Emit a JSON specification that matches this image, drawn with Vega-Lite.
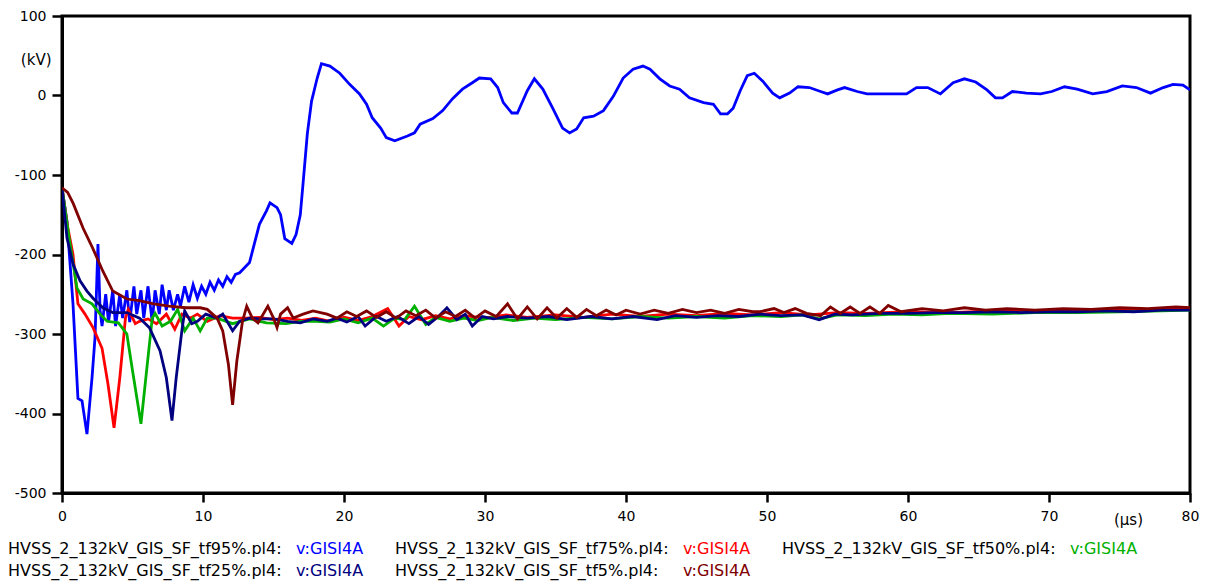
{
"$schema":"https://vega.github.io/schema/vega-lite/v6.json",
"padding":{"left":8,"top":7,"right":0,"bottom":0},
"bounds":"flush",
"spacing":45,
"config":{"view":{"stroke":null},"font":"DejaVu Sans","text":{"font":"DejaVu Sans"}},
"datasets":{
"legend":[
{"row":1,"col":1,"name":"HVSS_2_132kV_GIS_SF_tf95%.pl4:","s":"tf95%","tag":"v:GISI4A"},
{"row":1,"col":2,"name":"HVSS_2_132kV_GIS_SF_tf75%.pl4:","s":"tf75%","tag":"v:GISI4A"},
{"row":1,"col":3,"name":"HVSS_2_132kV_GIS_SF_tf50%.pl4:","s":"tf50%","tag":"v:GISI4A"},
{"row":2,"col":1,"name":"HVSS_2_132kV_GIS_SF_tf25%.pl4:","s":"tf25%","tag":"v:GISI4A"},
{"row":2,"col":2,"name":"HVSS_2_132kV_GIS_SF_tf5%.pl4:","s":"tf5%","tag":"v:GISI4A"}
],
"curves":[
{"s":"tf95%","t":0,"v":-116},{"s":"tf95%","t":0.35,"v":-158},{"s":"tf95%","t":0.78,"v":-262},{"s":"tf95%","t":1.13,"v":-381},{"s":"tf95%","t":1.42,"v":-384},{"s":"tf95%","t":1.77,"v":-426},{"s":"tf95%","t":2.13,"v":-355},{"s":"tf95%","t":2.34,"v":-305},{"s":"tf95%","t":2.55,"v":-187},{"s":"tf95%","t":2.7,"v":-270},{"s":"tf95%","t":2.84,"v":-290},{"s":"tf95%","t":3.1,"v":-250},{"s":"tf95%","t":3.3,"v":-285},{"s":"tf95%","t":3.6,"v":-245},{"s":"tf95%","t":3.8,"v":-290},{"s":"tf95%","t":4.1,"v":-250},{"s":"tf95%","t":4.3,"v":-280},{"s":"tf95%","t":4.6,"v":-245},{"s":"tf95%","t":4.8,"v":-285},{"s":"tf95%","t":5.1,"v":-240},{"s":"tf95%","t":5.3,"v":-275},{"s":"tf95%","t":5.6,"v":-245},{"s":"tf95%","t":5.8,"v":-280},{"s":"tf95%","t":6.1,"v":-240},{"s":"tf95%","t":6.4,"v":-285},{"s":"tf95%","t":6.6,"v":-245},{"s":"tf95%","t":6.9,"v":-275},{"s":"tf95%","t":7.1,"v":-238},{"s":"tf95%","t":7.4,"v":-270},{"s":"tf95%","t":7.6,"v":-245},{"s":"tf95%","t":7.9,"v":-270},{"s":"tf95%","t":8.2,"v":-250},{"s":"tf95%","t":8.4,"v":-265},{"s":"tf95%","t":8.7,"v":-240},{"s":"tf95%","t":9.0,"v":-260},{"s":"tf95%","t":9.3,"v":-238},{"s":"tf95%","t":9.6,"v":-255},{"s":"tf95%","t":9.9,"v":-240},{"s":"tf95%","t":10.2,"v":-250},{"s":"tf95%","t":10.5,"v":-235},{"s":"tf95%","t":10.8,"v":-245},{"s":"tf95%","t":11.1,"v":-232},{"s":"tf95%","t":11.4,"v":-240},{"s":"tf95%","t":11.7,"v":-228},{"s":"tf95%","t":12.0,"v":-235},{"s":"tf95%","t":12.3,"v":-225},{"s":"tf95%","t":12.6,"v":-223},{"s":"tf95%","t":13.3,"v":-210},{"s":"tf95%","t":14.0,"v":-162},{"s":"tf95%","t":14.5,"v":-145},{"s":"tf95%","t":14.75,"v":-135},{"s":"tf95%","t":15.25,"v":-141},{"s":"tf95%","t":15.5,"v":-150},{"s":"tf95%","t":15.8,"v":-180},{"s":"tf95%","t":16.3,"v":-186},{"s":"tf95%","t":16.6,"v":-175},{"s":"tf95%","t":16.9,"v":-150},{"s":"tf95%","t":17.1,"v":-110},{"s":"tf95%","t":17.4,"v":-48},{"s":"tf95%","t":17.7,"v":-7},{"s":"tf95%","t":18.1,"v":22},{"s":"tf95%","t":18.4,"v":40},{"s":"tf95%","t":19.0,"v":37},{"s":"tf95%","t":19.7,"v":28},{"s":"tf95%","t":20.4,"v":14},{"s":"tf95%","t":21.1,"v":2},{"s":"tf95%","t":21.6,"v":-11},{"s":"tf95%","t":22.0,"v":-28},{"s":"tf95%","t":22.6,"v":-41},{"s":"tf95%","t":23.0,"v":-53},{"s":"tf95%","t":23.6,"v":-57},{"s":"tf95%","t":24.5,"v":-51},{"s":"tf95%","t":25.0,"v":-47},{"s":"tf95%","t":25.4,"v":-36},{"s":"tf95%","t":26.3,"v":-29},{"s":"tf95%","t":27.0,"v":-19},{"s":"tf95%","t":27.7,"v":-4},{"s":"tf95%","t":28.4,"v":8},{"s":"tf95%","t":29.1,"v":16},{"s":"tf95%","t":29.6,"v":22},{"s":"tf95%","t":30.4,"v":21},{"s":"tf95%","t":30.9,"v":10},{"s":"tf95%","t":31.3,"v":-9},{"s":"tf95%","t":31.9,"v":-22},{"s":"tf95%","t":32.3,"v":-22},{"s":"tf95%","t":33.0,"v":6},{"s":"tf95%","t":33.5,"v":21},{"s":"tf95%","t":34.1,"v":8},{"s":"tf95%","t":34.8,"v":-16},{"s":"tf95%","t":35.5,"v":-41},{"s":"tf95%","t":36.0,"v":-47},{"s":"tf95%","t":36.5,"v":-42},{"s":"tf95%","t":37.0,"v":-28},{"s":"tf95%","t":37.7,"v":-26},{"s":"tf95%","t":38.4,"v":-19},{"s":"tf95%","t":39.1,"v":-1},{"s":"tf95%","t":39.8,"v":22},{"s":"tf95%","t":40.5,"v":33},{"s":"tf95%","t":41.2,"v":37},{"s":"tf95%","t":41.7,"v":33},{"s":"tf95%","t":42.4,"v":21},{"s":"tf95%","t":43.1,"v":12},{"s":"tf95%","t":43.8,"v":8},{"s":"tf95%","t":44.5,"v":-3},{"s":"tf95%","t":45.5,"v":-9},{"s":"tf95%","t":46.2,"v":-11},{"s":"tf95%","t":46.7,"v":-23},{"s":"tf95%","t":47.2,"v":-23},{"s":"tf95%","t":47.6,"v":-16},{"s":"tf95%","t":48.1,"v":6},{"s":"tf95%","t":48.6,"v":25},{"s":"tf95%","t":49.1,"v":28},{"s":"tf95%","t":49.7,"v":18},{"s":"tf95%","t":50.4,"v":3},{"s":"tf95%","t":50.9,"v":-3},{"s":"tf95%","t":51.6,"v":3},{"s":"tf95%","t":52.2,"v":11},{"s":"tf95%","t":53.0,"v":10},{"s":"tf95%","t":53.8,"v":5},{"s":"tf95%","t":54.3,"v":2},{"s":"tf95%","t":55.0,"v":7},{"s":"tf95%","t":55.5,"v":10},{"s":"tf95%","t":56.4,"v":5},{"s":"tf95%","t":57.1,"v":2},{"s":"tf95%","t":58.7,"v":2},{"s":"tf95%","t":59.9,"v":2},{"s":"tf95%","t":60.6,"v":10},{"s":"tf95%","t":61.4,"v":10},{"s":"tf95%","t":62.3,"v":2},{"s":"tf95%","t":63.2,"v":16},{"s":"tf95%","t":64.0,"v":21},{"s":"tf95%","t":64.8,"v":17},{"s":"tf95%","t":65.6,"v":7},{"s":"tf95%","t":66.2,"v":-3},{"s":"tf95%","t":66.7,"v":-3},{"s":"tf95%","t":67.4,"v":5},{"s":"tf95%","t":68.4,"v":3},{"s":"tf95%","t":69.4,"v":2},{"s":"tf95%","t":70.2,"v":5},{"s":"tf95%","t":71.1,"v":11},{"s":"tf95%","t":72.0,"v":8},{"s":"tf95%","t":73.1,"v":2},{"s":"tf95%","t":74.1,"v":5},{"s":"tf95%","t":75.2,"v":12},{"s":"tf95%","t":76.2,"v":10},{"s":"tf95%","t":77.2,"v":3},{"s":"tf95%","t":78.1,"v":10},{"s":"tf95%","t":78.8,"v":14},{"s":"tf95%","t":79.5,"v":13},{"s":"tf95%","t":80,"v":7},
{"s":"tf75%","t":0,"v":-116},{"s":"tf75%","t":0.4,"v":-165},{"s":"tf75%","t":0.78,"v":-200},{"s":"tf75%","t":1.13,"v":-262},{"s":"tf75%","t":1.63,"v":-275},{"s":"tf75%","t":2.2,"v":-292},{"s":"tf75%","t":2.84,"v":-318},{"s":"tf75%","t":3.26,"v":-363},{"s":"tf75%","t":3.69,"v":-418},{"s":"tf75%","t":4.1,"v":-355},{"s":"tf75%","t":4.5,"v":-280},{"s":"tf75%","t":4.7,"v":-269},{"s":"tf75%","t":5.2,"v":-287},{"s":"tf75%","t":5.5,"v":-284},{"s":"tf75%","t":6.1,"v":-281},{"s":"tf75%","t":6.7,"v":-287},{"s":"tf75%","t":7.4,"v":-275},{"s":"tf75%","t":8.0,"v":-294},{"s":"tf75%","t":8.5,"v":-275},{"s":"tf75%","t":9.1,"v":-280},{"s":"tf75%","t":9.6,"v":-275},{"s":"tf75%","t":10.3,"v":-284},{"s":"tf75%","t":11.2,"v":-277},{"s":"tf75%","t":12.1,"v":-280},{"s":"tf75%","t":13.1,"v":-280},{"s":"tf75%","t":14.0,"v":-279},{"s":"tf75%","t":15,"v":-282},{"s":"tf75%","t":16,"v":-280},{"s":"tf75%","t":17,"v":-283},{"s":"tf75%","t":18,"v":-280},{"s":"tf75%","t":19,"v":-284},{"s":"tf75%","t":20,"v":-279},{"s":"tf75%","t":21,"v":-283},{"s":"tf75%","t":22,"v":-278},{"s":"tf75%","t":23.1,"v":-268},{"s":"tf75%","t":23.9,"v":-290},{"s":"tf75%","t":24.6,"v":-278},{"s":"tf75%","t":25.5,"v":-282},{"s":"tf75%","t":26.5,"v":-277},{"s":"tf75%","t":27.5,"v":-281},{"s":"tf75%","t":28.5,"v":-277},{"s":"tf75%","t":30,"v":-280},{"s":"tf75%","t":31.5,"v":-276},{"s":"tf75%","t":33,"v":-279},{"s":"tf75%","t":35,"v":-276},{"s":"tf75%","t":37,"v":-279},{"s":"tf75%","t":39,"v":-275},{"s":"tf75%","t":41,"v":-278},{"s":"tf75%","t":43,"v":-275},{"s":"tf75%","t":45,"v":-277},{"s":"tf75%","t":47,"v":-274},{"s":"tf75%","t":49,"v":-276},{"s":"tf75%","t":51,"v":-273},{"s":"tf75%","t":53,"v":-276},{"s":"tf75%","t":55,"v":-273},{"s":"tf75%","t":57,"v":-274},{"s":"tf75%","t":60,"v":-272},{"s":"tf75%","t":63,"v":-273},{"s":"tf75%","t":66,"v":-271},{"s":"tf75%","t":70,"v":-272},{"s":"tf75%","t":74,"v":-270},{"s":"tf75%","t":77,"v":-270},{"s":"tf75%","t":80,"v":-268},
{"s":"tf50%","t":0,"v":-116},{"s":"tf50%","t":0.5,"v":-179},{"s":"tf50%","t":1.06,"v":-242},{"s":"tf50%","t":1.5,"v":-256},{"s":"tf50%","t":2.13,"v":-262},{"s":"tf50%","t":2.7,"v":-275},{"s":"tf50%","t":3.2,"v":-284},{"s":"tf50%","t":4.0,"v":-286},{"s":"tf50%","t":4.6,"v":-300},{"s":"tf50%","t":5.0,"v":-346},{"s":"tf50%","t":5.6,"v":-413},{"s":"tf50%","t":6.0,"v":-346},{"s":"tf50%","t":6.4,"v":-280},{"s":"tf50%","t":6.6,"v":-274},{"s":"tf50%","t":7.1,"v":-290},{"s":"tf50%","t":7.7,"v":-284},{"s":"tf50%","t":8.2,"v":-269},{"s":"tf50%","t":8.7,"v":-296},{"s":"tf50%","t":9.3,"v":-280},{"s":"tf50%","t":9.8,"v":-296},{"s":"tf50%","t":10.3,"v":-280},{"s":"tf50%","t":11.0,"v":-280},{"s":"tf50%","t":12.1,"v":-287},{"s":"tf50%","t":13.3,"v":-281},{"s":"tf50%","t":14.5,"v":-286},{"s":"tf50%","t":15.9,"v":-287},{"s":"tf50%","t":16.9,"v":-284},{"s":"tf50%","t":18,"v":-284},{"s":"tf50%","t":19,"v":-285},{"s":"tf50%","t":20,"v":-281},{"s":"tf50%","t":21,"v":-286},{"s":"tf50%","t":22,"v":-280},{"s":"tf50%","t":22.8,"v":-290},{"s":"tf50%","t":23.6,"v":-280},{"s":"tf50%","t":24.3,"v":-282},{"s":"tf50%","t":25.0,"v":-265},{"s":"tf50%","t":25.8,"v":-288},{"s":"tf50%","t":26.5,"v":-279},{"s":"tf50%","t":27.5,"v":-284},{"s":"tf50%","t":28.5,"v":-280},{"s":"tf50%","t":29.5,"v":-283},{"s":"tf50%","t":30.5,"v":-279},{"s":"tf50%","t":32,"v":-283},{"s":"tf50%","t":33.5,"v":-280},{"s":"tf50%","t":35,"v":-282},{"s":"tf50%","t":37,"v":-279},{"s":"tf50%","t":39,"v":-281},{"s":"tf50%","t":41,"v":-278},{"s":"tf50%","t":43,"v":-280},{"s":"tf50%","t":45,"v":-278},{"s":"tf50%","t":47,"v":-280},{"s":"tf50%","t":49,"v":-277},{"s":"tf50%","t":51,"v":-278},{"s":"tf50%","t":52.5,"v":-276},{"s":"tf50%","t":53.7,"v":-281},{"s":"tf50%","t":55,"v":-276},{"s":"tf50%","t":57,"v":-277},{"s":"tf50%","t":59,"v":-275},{"s":"tf50%","t":61,"v":-276},{"s":"tf50%","t":63,"v":-274},{"s":"tf50%","t":66,"v":-275},{"s":"tf50%","t":69,"v":-273},{"s":"tf50%","t":72,"v":-273},{"s":"tf50%","t":75,"v":-272},{"s":"tf50%","t":78,"v":-271},{"s":"tf50%","t":80,"v":-270},
{"s":"tf25%","t":0,"v":-116},{"s":"tf25%","t":0.35,"v":-179},{"s":"tf25%","t":0.78,"v":-212},{"s":"tf25%","t":1.28,"v":-233},{"s":"tf25%","t":1.77,"v":-246},{"s":"tf25%","t":2.2,"v":-255},{"s":"tf25%","t":2.9,"v":-267},{"s":"tf25%","t":3.6,"v":-273},{"s":"tf25%","t":4.6,"v":-273},{"s":"tf25%","t":5.5,"v":-280},{"s":"tf25%","t":6.2,"v":-292},{"s":"tf25%","t":6.95,"v":-321},{"s":"tf25%","t":7.4,"v":-355},{"s":"tf25%","t":7.8,"v":-409},{"s":"tf25%","t":8.1,"v":-355},{"s":"tf25%","t":8.5,"v":-296},{"s":"tf25%","t":8.7,"v":-271},{"s":"tf25%","t":9.2,"v":-287},{"s":"tf25%","t":9.6,"v":-284},{"s":"tf25%","t":10.2,"v":-275},{"s":"tf25%","t":11.0,"v":-280},{"s":"tf25%","t":11.4,"v":-275},{"s":"tf25%","t":12.1,"v":-296},{"s":"tf25%","t":12.6,"v":-284},{"s":"tf25%","t":13.3,"v":-280},{"s":"tf25%","t":14.0,"v":-281},{"s":"tf25%","t":15.0,"v":-281},{"s":"tf25%","t":16.0,"v":-284},{"s":"tf25%","t":16.9,"v":-286},{"s":"tf25%","t":17.8,"v":-281},{"s":"tf25%","t":18.8,"v":-284},{"s":"tf25%","t":19.5,"v":-280},{"s":"tf25%","t":20.2,"v":-285},{"s":"tf25%","t":21.0,"v":-278},{"s":"tf25%","t":21.5,"v":-290},{"s":"tf25%","t":22.3,"v":-278},{"s":"tf25%","t":23.0,"v":-284},{"s":"tf25%","t":23.8,"v":-278},{"s":"tf25%","t":24.6,"v":-287},{"s":"tf25%","t":25.3,"v":-278},{"s":"tf25%","t":26.0,"v":-288},{"s":"tf25%","t":26.7,"v":-278},{"s":"tf25%","t":27.3,"v":-267},{"s":"tf25%","t":28.0,"v":-282},{"s":"tf25%","t":28.6,"v":-275},{"s":"tf25%","t":29.1,"v":-290},{"s":"tf25%","t":29.8,"v":-278},{"s":"tf25%","t":30.6,"v":-281},{"s":"tf25%","t":31.6,"v":-278},{"s":"tf25%","t":33.0,"v":-280},{"s":"tf25%","t":34.5,"v":-278},{"s":"tf25%","t":35.8,"v":-282},{"s":"tf25%","t":37.5,"v":-278},{"s":"tf25%","t":39.0,"v":-281},{"s":"tf25%","t":40.5,"v":-278},{"s":"tf25%","t":42.2,"v":-282},{"s":"tf25%","t":43.5,"v":-277},{"s":"tf25%","t":45,"v":-279},{"s":"tf25%","t":46.5,"v":-277},{"s":"tf25%","t":48,"v":-278},{"s":"tf25%","t":49.5,"v":-275},{"s":"tf25%","t":51,"v":-277},{"s":"tf25%","t":52.5,"v":-276},{"s":"tf25%","t":53.7,"v":-282},{"s":"tf25%","t":54.8,"v":-275},{"s":"tf25%","t":56,"v":-276},{"s":"tf25%","t":58,"v":-274},{"s":"tf25%","t":60,"v":-274},{"s":"tf25%","t":62,"v":-273},{"s":"tf25%","t":64,"v":-273},{"s":"tf25%","t":66,"v":-272},{"s":"tf25%","t":68,"v":-273},{"s":"tf25%","t":70,"v":-272},{"s":"tf25%","t":72,"v":-272},{"s":"tf25%","t":74,"v":-271},{"s":"tf25%","t":76,"v":-272},{"s":"tf25%","t":78,"v":-270},{"s":"tf25%","t":80,"v":-270},
{"s":"tf5%","t":0,"v":-116},{"s":"tf5%","t":0.4,"v":-122},{"s":"tf5%","t":0.8,"v":-136},{"s":"tf5%","t":1.5,"v":-167},{"s":"tf5%","t":2.2,"v":-193},{"s":"tf5%","t":2.9,"v":-221},{"s":"tf5%","t":3.6,"v":-246},{"s":"tf5%","t":4.6,"v":-256},{"s":"tf5%","t":5.5,"v":-258},{"s":"tf5%","t":6.5,"v":-262},{"s":"tf5%","t":7.6,"v":-265},{"s":"tf5%","t":8.8,"v":-267},{"s":"tf5%","t":9.8,"v":-267},{"s":"tf5%","t":10.3,"v":-269},{"s":"tf5%","t":11.0,"v":-280},{"s":"tf5%","t":11.4,"v":-296},{"s":"tf5%","t":11.8,"v":-338},{"s":"tf5%","t":12.1,"v":-389},{"s":"tf5%","t":12.4,"v":-334},{"s":"tf5%","t":12.8,"v":-284},{"s":"tf5%","t":13.1,"v":-265},{"s":"tf5%","t":13.5,"v":-280},{"s":"tf5%","t":13.9,"v":-286},{"s":"tf5%","t":14.6,"v":-265},{"s":"tf5%","t":15.0,"v":-280},{"s":"tf5%","t":15.25,"v":-292},{"s":"tf5%","t":15.5,"v":-275},{"s":"tf5%","t":16.0,"v":-267},{"s":"tf5%","t":16.4,"v":-280},{"s":"tf5%","t":17.1,"v":-275},{"s":"tf5%","t":17.8,"v":-271},{"s":"tf5%","t":18.8,"v":-275},{"s":"tf5%","t":19.5,"v":-280},{"s":"tf5%","t":20.2,"v":-272},{"s":"tf5%","t":20.9,"v":-278},{"s":"tf5%","t":21.6,"v":-271},{"s":"tf5%","t":22.3,"v":-279},{"s":"tf5%","t":23.0,"v":-272},{"s":"tf5%","t":23.7,"v":-280},{"s":"tf5%","t":24.4,"v":-271},{"s":"tf5%","t":25.1,"v":-277},{"s":"tf5%","t":25.8,"v":-270},{"s":"tf5%","t":26.5,"v":-280},{"s":"tf5%","t":27.2,"v":-272},{"s":"tf5%","t":27.9,"v":-278},{"s":"tf5%","t":28.6,"v":-270},{"s":"tf5%","t":29.3,"v":-280},{"s":"tf5%","t":30.0,"v":-271},{"s":"tf5%","t":30.8,"v":-278},{"s":"tf5%","t":31.6,"v":-262},{"s":"tf5%","t":32.3,"v":-281},{"s":"tf5%","t":33.0,"v":-266},{"s":"tf5%","t":33.7,"v":-281},{"s":"tf5%","t":34.4,"v":-267},{"s":"tf5%","t":35.1,"v":-280},{"s":"tf5%","t":35.8,"v":-268},{"s":"tf5%","t":36.5,"v":-279},{"s":"tf5%","t":37.2,"v":-269},{"s":"tf5%","t":37.9,"v":-277},{"s":"tf5%","t":38.6,"v":-270},{"s":"tf5%","t":39.3,"v":-276},{"s":"tf5%","t":40.0,"v":-270},{"s":"tf5%","t":41,"v":-275},{"s":"tf5%","t":42,"v":-270},{"s":"tf5%","t":43,"v":-274},{"s":"tf5%","t":44,"v":-269},{"s":"tf5%","t":45,"v":-273},{"s":"tf5%","t":46,"v":-270},{"s":"tf5%","t":47,"v":-274},{"s":"tf5%","t":48,"v":-269},{"s":"tf5%","t":49,"v":-272},{"s":"tf5%","t":49.5,"v":-272},{"s":"tf5%","t":50.5,"v":-268},{"s":"tf5%","t":51.2,"v":-273},{"s":"tf5%","t":52.0,"v":-268},{"s":"tf5%","t":52.8,"v":-274},{"s":"tf5%","t":53.8,"v":-277},{"s":"tf5%","t":54.5,"v":-266},{"s":"tf5%","t":55.2,"v":-274},{"s":"tf5%","t":55.9,"v":-266},{"s":"tf5%","t":56.6,"v":-274},{"s":"tf5%","t":57.3,"v":-266},{"s":"tf5%","t":58.0,"v":-274},{"s":"tf5%","t":58.6,"v":-264},{"s":"tf5%","t":59.5,"v":-272},{"s":"tf5%","t":61,"v":-268},{"s":"tf5%","t":62.5,"v":-271},{"s":"tf5%","t":64,"v":-267},{"s":"tf5%","t":65.5,"v":-270},{"s":"tf5%","t":67,"v":-268},{"s":"tf5%","t":69,"v":-270},{"s":"tf5%","t":71,"v":-268},{"s":"tf5%","t":73,"v":-269},{"s":"tf5%","t":75,"v":-267},{"s":"tf5%","t":77,"v":-268},{"s":"tf5%","t":79,"v":-266},{"s":"tf5%","t":80,"v":-267}
]},
"vconcat":[
{
"width":1128,"height":477,
"view":{"stroke":"black","strokeWidth":3},
"data":{"name":"curves"},
"mark":{"type":"line","strokeWidth":2.8,"clip":true},
"encoding":{
"x":{"field":"t","type":"quantitative","scale":{"domain":[0,80],"nice":false,"zero":false},
"axis":{"values":[0,10,20,30,40,50,60,70,80],"grid":false,"labelFlush":false,"labelOverlap":false,"domainColor":"black","domainWidth":3,"tickColor":"black","tickWidth":2.5,"tickSize":9,"labelFontSize":14,"labelColor":"black","labelPadding":7,"labelFont":"DejaVu Sans","labelExpr":"'' + datum.value","title":"(µs)","titleFont":"DejaVu Sans","titleFontWeight":"normal","titleFontSize":15,"titleColor":"black","titleX":1066,"titleY":26,"titleAlign":"center","titleBaseline":"middle","titleAngle":0}},
"y":{"field":"v","type":"quantitative","scale":{"domain":[-500,100],"nice":false,"zero":false},
"axis":{"values":[-500,-400,-300,-200,-100,0,100],"grid":false,"labelFlush":false,"labelOverlap":false,"domainColor":"black","domainWidth":3,"tickColor":"black","tickWidth":2.5,"tickSize":10,"labelFontSize":14,"labelColor":"black","labelPadding":6,"labelFont":"DejaVu Sans","labelExpr":"'' + datum.value","title":"(kV)","titleFont":"DejaVu Sans","titleFontWeight":"normal","titleFontSize":15,"titleColor":"black","titleX":-11,"titleY":43,"titleAlign":"right","titleBaseline":"middle","titleAngle":0}},
"color":{"field":"s","type":"nominal","scale":{"domain":["tf95%","tf75%","tf50%","tf25%","tf5%"],"range":["#0000FF","#FF0000","#00B000","#000080","#800000"]},"legend":null}
}
},
{
"width":1128,"height":44,
"data":{"name":"legend"},
"layer":[
{"mark":{"type":"text","align":"left","baseline":"middle","fontSize":16,"font":"DejaVu Sans","color":"black","dx":-231},
"encoding":{
"x":{"field":"col","type":"ordinal","scale":{"type":"point","padding":0.4574},"axis":null},
"y":{"field":"row","type":"ordinal","scale":{"type":"point","padding":0.5},"axis":null},
"text":{"field":"name"}}},
{"mark":{"type":"text","align":"left","baseline":"middle","fontSize":16,"font":"DejaVu Sans","dx":57},
"encoding":{
"x":{"field":"col","type":"ordinal","scale":{"type":"point","padding":0.4574},"axis":null},
"y":{"field":"row","type":"ordinal","scale":{"type":"point","padding":0.5},"axis":null},
"text":{"field":"tag"},
"color":{"field":"s","type":"nominal","legend":null}}}
]
}
]
}
